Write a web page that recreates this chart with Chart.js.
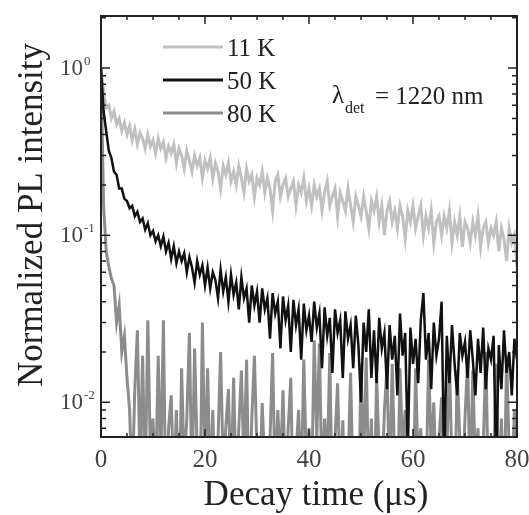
<!DOCTYPE html>
<html>
<head>
<meta charset="utf-8">
<script src="https://cdn.jsdelivr.net/npm/chart.js@4.4.1/dist/chart.umd.min.js"></script>
<style>
  html, body { margin: 0; padding: 0; background: #fff; }
  canvas { display: block; }
</style>
</head>
<body>
<canvas id="decayChart" width="529" height="515"></canvas>
<script>
// Series labels and colours (legend order)
const seriesLabels = ['11 K', '50 K', '80 K'];
const seriesColors = ['#c0c0c0', '#111111', '#8c8c8c'];

// Samples are every 0.5 us from 0 to 80 us
const stepUs = 0.5;

// Normalized PL intensity
const pl11K = [
  1.00, 0.72, 0.58, 0.60, 0.50, 0.55, 0.46, 0.50, 0.42, 0.47, 0.40,
  0.45, 0.37, 0.43, 0.35, 0.41, 0.38, 0.33, 0.40, 0.34, 0.37,
  0.31, 0.38, 0.33, 0.36, 0.29, 0.34, 0.31, 0.35, 0.27, 0.33,
  0.30, 0.25, 0.32, 0.28, 0.24, 0.30, 0.26, 0.29, 0.22, 0.28,
  0.25, 0.29, 0.22, 0.27, 0.24, 0.19, 0.26, 0.23, 0.27, 0.21,
  0.24, 0.20, 0.26, 0.22, 0.18, 0.25, 0.21, 0.23, 0.17, 0.22,
  0.20, 0.24, 0.18, 0.22, 0.19, 0.14, 0.21, 0.23, 0.17, 0.20,
  0.22, 0.17, 0.19, 0.21, 0.15, 0.20, 0.18, 0.22, 0.16, 0.19,
  0.15, 0.20, 0.17, 0.19, 0.14, 0.18, 0.21, 0.15, 0.17, 0.19,
  0.13, 0.18, 0.16, 0.14, 0.19, 0.15, 0.12, 0.17, 0.15, 0.13,
  0.17, 0.14, 0.11, 0.16, 0.14, 0.17, 0.12, 0.15, 0.10, 0.14,
  0.16, 0.12, 0.14, 0.11, 0.15, 0.13, 0.095, 0.14, 0.12, 0.15,
  0.11, 0.13, 0.15, 0.10, 0.13, 0.11, 0.14, 0.09, 0.12, 0.13,
  0.10, 0.13, 0.11, 0.14, 0.09, 0.12, 0.10, 0.13, 0.085, 0.12,
  0.11, 0.09, 0.12, 0.10, 0.13, 0.085, 0.11, 0.12, 0.09, 0.11,
  0.10, 0.12, 0.08, 0.11, 0.095, 0.07, 0.11, 0.09, 0.10, 0.065
];
const pl50K = [
  1.00, 0.55, 0.42, 0.32, 0.29, 0.24, 0.23, 0.19, 0.19, 0.165, 0.16,
  0.145, 0.150, 0.130, 0.138, 0.120, 0.126, 0.108, 0.118, 0.100, 0.106,
  0.092, 0.100, 0.086, 0.098, 0.080, 0.090, 0.072, 0.086, 0.068, 0.080,
  0.070, 0.078, 0.060, 0.074, 0.064, 0.052, 0.070, 0.058, 0.066, 0.050,
  0.064, 0.048, 0.060, 0.054, 0.042, 0.062, 0.046, 0.056, 0.040, 0.058,
  0.044, 0.052, 0.036, 0.056, 0.042, 0.048, 0.030, 0.050, 0.038, 0.046,
  0.030, 0.048, 0.036, 0.042, 0.024, 0.045, 0.034, 0.040, 0.021, 0.043,
  0.031, 0.038, 0.020, 0.041, 0.029, 0.036, 0.018, 0.039, 0.027, 0.033,
  0.023, 0.040, 0.028, 0.034, 0.016, 0.037, 0.025, 0.032, 0.015, 0.036,
  0.026, 0.031, 0.014, 0.035, 0.024, 0.029, 0.016, 0.033, 0.022, 0.010,
  0.030, 0.020, 0.036, 0.014, 0.027, 0.013, 0.032, 0.021, 0.026, 0.012,
  0.029, 0.018, 0.025, 0.011, 0.034, 0.019, 0.026, 0.005, 0.028, 0.017,
  0.024, 0.013, 0.031, 0.045, 0.018, 0.026, 0.012, 0.030, 0.019, 0.024,
  0.040, 0.004, 0.025, 0.013, 0.029, 0.017, 0.011, 0.026, 0.019, 0.023,
  0.014, 0.027, 0.018, 0.011, 0.024, 0.015, 0.028, 0.012, 0.021, 0.018,
  0.025, 0.004, 0.022, 0.012, 0.027, 0.015, 0.020, 0.011, 0.024, 0.018
];
const pl80K = [
  1.00, 0.15, 0.08, 0.065, 0.055, 0.05, 0.03, 0.038, 0.02, 0.025, 0.014,
  0.009, 0.003, 0.012, 0.027, 0.004, 0.019, 0.003, 0.031, 0.005, 0.008,
  0.003, 0.019, 0.004, 0.031, 0.002, 0.007, 0.011, 0.003, 0.009, 0.002,
  0.016, 0.004, 0.008, 0.026, 0.003, 0.021, 0.005, 0.002, 0.030, 0.004,
  0.016, 0.003, 0.009, 0.002, 0.006, 0.020, 0.004, 0.007, 0.012, 0.003,
  0.014, 0.003, 0.007, 0.0155, 0.004, 0.018, 0.002, 0.008, 0.019, 0.005,
  0.003, 0.0099, 0.004, 0.002, 0.006, 0.0197, 0.003, 0.009, 0.004, 0.0118,
  0.003, 0.007, 0.014, 0.002, 0.005, 0.009, 0.003, 0.018, 0.004, 0.007,
  0.003, 0.0235, 0.006, 0.0225, 0.003, 0.008, 0.004, 0.0197, 0.002, 0.006,
  0.013, 0.003, 0.0078, 0.002, 0.004, 0.015, 0.003, 0.006, 0.002, 0.017,
  0.004, 0.0185, 0.003, 0.008, 0.002, 0.014, 0.005, 0.003, 0.009, 0.016,
  0.003, 0.017, 0.004, 0.002, 0.016, 0.005, 0.009, 0.003, 0.006, 0.002,
  0.016, 0.004, 0.007, 0.002, 0.003, 0.018, 0.005, 0.010, 0.003, 0.006,
  0.0107, 0.003, 0.005, 0.0185, 0.004, 0.002, 0.0155, 0.006, 0.003, 0.008,
  0.018, 0.003, 0.0155, 0.004, 0.007, 0.002, 0.005, 0.020, 0.003, 0.006,
  0.004, 0.017, 0.003, 0.008, 0.002, 0.019, 0.005, 0.003, 0.009, 0.004
];

// Axis settings
const xTickLabels = [0, 20, 40, 60, 80];
const yDecades = [-2, -1, 0];
const xMin = 0, xMax = 80;
const yMin = 0.0062, yMax = 2.05;

function toPoints(values) {
  return values.map((v, i) => ({ x: i * stepUs, y: v }));
}

const serif = '"Liberation Serif", "DejaVu Serif", serif';

// Draws the frame, inward ticks, tick labels, titles, legend and the note
const framePlugin = {
  id: 'frame',
  afterDraw(chart) {
    const ctx = chart.ctx;
    const area = chart.chartArea;
    const xs = chart.scales.x;
    const ys = chart.scales.y;
    ctx.save();

    // frame
    ctx.strokeStyle = '#222';
    ctx.lineWidth = 2;
    ctx.strokeRect(area.left, area.top, area.right - area.left, area.bottom - area.top);

    // x ticks (minor every 5, major every 20)
    ctx.lineWidth = 1.5;
    for (let v = xMin; v <= xMax; v += 5) {
      const px = xs.getPixelForValue(v);
      const len = v % 20 === 0 ? 8 : 4;
      ctx.beginPath();
      ctx.moveTo(px, area.bottom); ctx.lineTo(px, area.bottom - len);
      ctx.moveTo(px, area.top); ctx.lineTo(px, area.top + len);
      ctx.stroke();
    }

    // y ticks (log, minor at 2..9)
    for (let d = -3; d <= 1; d++) {
      for (let k = 1; k <= 9; k++) {
        const v = k * Math.pow(10, d);
        if (v < yMin || v > yMax) continue;
        const py = ys.getPixelForValue(v);
        const len = k === 1 ? 9 : 5;
        ctx.beginPath();
        ctx.moveTo(area.left, py); ctx.lineTo(area.left + len, py);
        ctx.moveTo(area.right, py); ctx.lineTo(area.right - len, py);
        ctx.stroke();
      }
    }

    // x tick labels
    ctx.fillStyle = '#444';
    ctx.font = '25px ' + serif;
    ctx.textAlign = 'center';
    ctx.textBaseline = 'middle';
    xTickLabels.forEach(v => {
      ctx.fillText(String(v), xs.getPixelForValue(v), 460);
    });

    // y tick labels 10^n
    yDecades.forEach(d => {
      const py = ys.getPixelForValue(Math.pow(10, d));
      ctx.font = '23px ' + serif;
      ctx.textAlign = 'right';
      ctx.textBaseline = 'middle';
      ctx.fillText('10', 83, py + 1);
      ctx.font = '13px ' + serif;
      ctx.textAlign = 'left';
      ctx.fillText(d === 0 ? '0' : '-' + Math.abs(d), 84, py - 7);
    });

    // axis titles
    ctx.fillStyle = '#222';
    ctx.font = '35px ' + serif;
    ctx.textAlign = 'center';
    ctx.textBaseline = 'alphabetic';
    ctx.fillText('Decay time (\u03bcs)', 316, 505);
    ctx.save();
    ctx.translate(42, 215);
    ctx.rotate(-Math.PI / 2);
    ctx.fillText('Normalized PL intensity', 0, 0);
    ctx.restore();

    // legend
    const legendY = [47, 80, 113];
    ctx.font = '25px ' + serif;
    ctx.textAlign = 'left';
    ctx.textBaseline = 'middle';
    chart.data.datasets.forEach(ds => {
      const y = legendY[seriesLabels.indexOf(ds.label)];
      ctx.strokeStyle = ds.borderColor;
      ctx.lineWidth = 3;
      ctx.beginPath();
      ctx.moveTo(163, y); ctx.lineTo(223, y);
      ctx.stroke();
      ctx.fillStyle = '#222';
      ctx.fillText(ds.label, 227, y + 2);
    });

    // detection wavelength note
    ctx.fillStyle = '#222';
    ctx.textBaseline = 'alphabetic';
    ctx.font = '25px ' + serif;
    ctx.fillText('\u03bb', 332, 103);
    ctx.font = '16px ' + serif;
    ctx.fillText('det', 345, 113);
    ctx.font = '25px ' + serif;
    ctx.fillText('= 1220 nm', 375, 104);

    ctx.restore();
  }
};

const ctx = document.getElementById('decayChart').getContext('2d');
const chart = new Chart(ctx, {
  type: 'line',
  data: {
    datasets: [
      { label: seriesLabels[1], data: toPoints(pl50K), borderColor: seriesColors[1], borderWidth: 2.5, order: 0 },
      { label: seriesLabels[0], data: toPoints(pl11K), borderColor: seriesColors[0], borderWidth: 3, order: 1 },
      { label: seriesLabels[2], data: toPoints(pl80K), borderColor: seriesColors[2], borderWidth: 3, order: 2 }
    ]
  },
  options: {
    responsive: false,
    animation: false,
    devicePixelRatio: 1,
    layout: { padding: { left: 101, top: 16, right: 12, bottom: 78 } },
    elements: {
      line: { tension: 0 },
      point: { radius: 0 }
    },
    datasets: { line: { clip: 0 } },
    scales: {
      x: { type: 'linear', min: xMin, max: xMax, display: false },
      y: { type: 'logarithmic', min: yMin, max: yMax, display: false }
    },
    plugins: {
      legend: { display: false },
      tooltip: { enabled: false }
    }
  },
  plugins: [framePlugin]
});
</script>
</body>
</html>
